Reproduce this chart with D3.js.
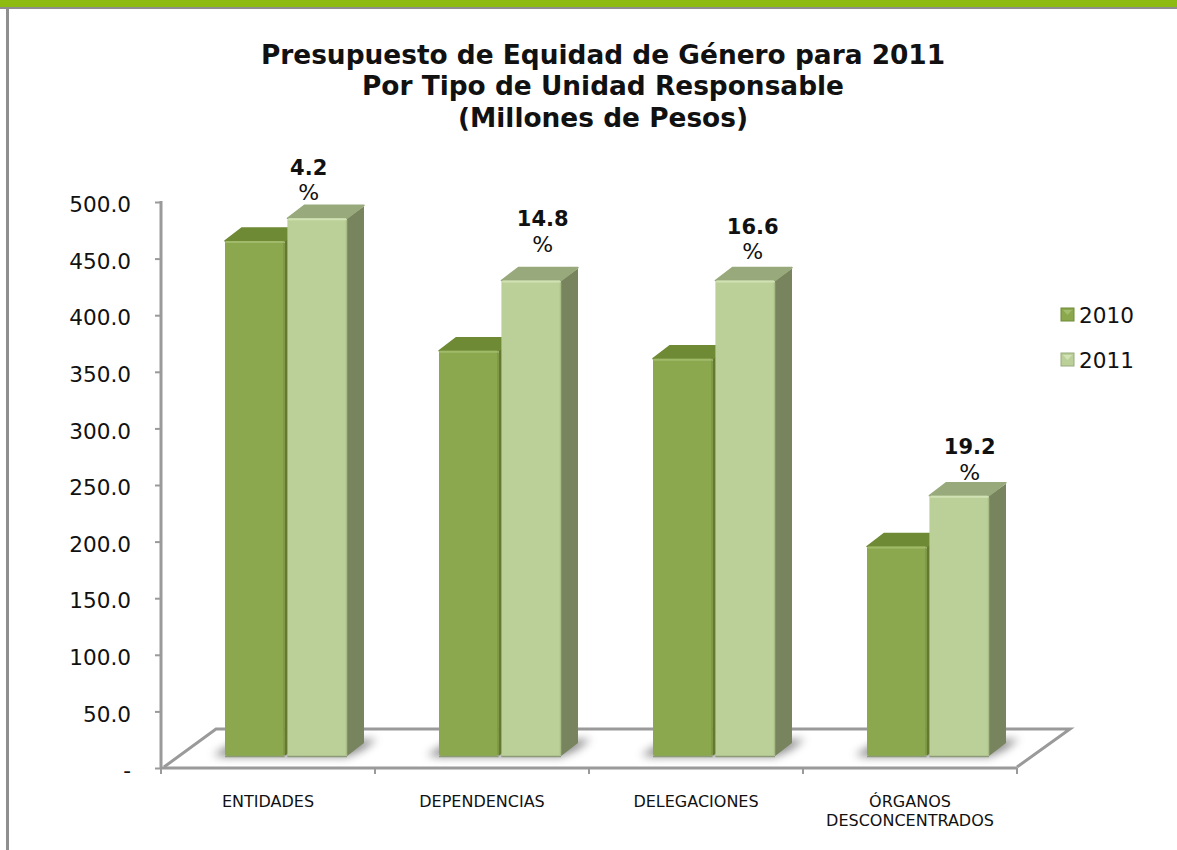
<!DOCTYPE html>
<html><head><meta charset="utf-8">
<script src="https://cdn.jsdelivr.net/npm/d3@7"></script>
<style>html,body{margin:0;padding:0;background:#fff}svg{display:block}text{font-family:"DejaVu Sans",sans-serif;fill:#111}</style>
</head><body><svg id="c" width="1177" height="850"></svg>
<script>
(function(){
const categories = ["ENTIDADES","DEPENDENCIAS","DELEGACIONES","ÓRGANOS\nDESCONCENTRADOS"];
const seriesNames = ["2010","2011"];
const values2010 = [455,358,351,185];
const values2011 = [475,420,420,230];
const pctLabels = ["4.2","14.8","16.6","19.2"];
const titleLines = ["Presupuesto de Equidad de Género para 2011","Por Tipo de Unidad Responsable","(Millones de Pesos)"];
const yTicks = [0,50,100,150,200,250,300,350,400,450,500];

const W=1177,H=850;
const svg=d3.select("#c");
const gray="#9a9a9a";
const m={left:161,right:1017,top:202,bottom:768};
const depthX=55, depthY=39, barLift=12, barDX=17, barDY=13;
const y=d3.scaleLinear().domain([0,500]).range([m.bottom,m.top]);
const x=d3.scaleBand().domain(categories).range([m.left,m.right]);
const inner=d3.scaleBand().domain(seriesNames).range([64,186]).paddingInner(0.045);
const palette={ "2010":{front:"#8ba84f",top:"#6f8a35",side:"#64792f",hi:"#a3bd6c",edge:"#7a9440"}, "2011":{front:"#bbd098",top:"#98a97b",side:"#77845e",hi:"#d3e3b8",edge:"#a9bd86"} };

// page frame
svg.append("rect").attr("x",0).attr("y",0).attr("width",W).attr("height",7).attr("fill","#8dbb12");
svg.append("rect").attr("x",0).attr("y",7).attr("width",W).attr("height",2).attr("fill","#8f8f8f");
svg.append("rect").attr("x",6).attr("y",7).attr("width",3).attr("height",H).attr("fill","#8f8f8f");

const defs=svg.append("defs");
defs.append("filter").attr("id","blur").attr("x","-30%").attr("y","-80%").attr("width","160%").attr("height","260%")
  .append("feGaussianBlur").attr("stdDeviation",4.5);

// title
svg.append("g").selectAll("text").data(titleLines).join("text")
  .attr("x",603).attr("y",(d,i)=>63.5+i*31.5).attr("text-anchor","middle")
  .attr("font-size",26.4).attr("font-weight","bold").text(d=>d);

// floor
const fl=[[m.left+3,m.bottom-1],[m.left+depthX,m.bottom-depthY],[m.right+depthX-2,m.bottom-depthY],[m.right,m.bottom-1]];
svg.append("path").attr("d","M"+fl.join("L")).attr("fill","#fff").attr("stroke",gray).attr("stroke-width",3).attr("stroke-linejoin","miter");

// y axis
const yAxis=d3.axisLeft(y).tickValues(yTicks).tickSize(6).tickPadding(24)
  .tickFormat(d=>d===0?"-":d3.format(".1f")(d));
const ga=svg.append("g").attr("transform",`translate(${m.left},0)`).call(yAxis);
ga.select(".domain").attr("stroke",gray).attr("stroke-width",3).attr("d",`M0,${m.top-1}V${m.bottom}`);
ga.selectAll(".tick line").attr("stroke",gray).attr("stroke-width",2);
ga.selectAll(".tick text").attr("font-size",21.6).attr("font-family","DejaVu Sans").attr("fill","#111").attr("dy","0.45em");

// x axis
const edges=[...categories.map(c=>x(c)),m.right];
const gx=svg.append("g");
gx.append("line").attr("x1",m.left).attr("x2",m.right).attr("y1",m.bottom).attr("y2",m.bottom).attr("stroke",gray).attr("stroke-width",3);
gx.selectAll("line.t").data(edges).join("line").attr("class","t")
  .attr("x1",d=>d).attr("x2",d=>d).attr("y1",m.bottom).attr("y2",m.bottom+6).attr("stroke",gray).attr("stroke-width",2);
categories.forEach(c=>{
  const lines=c.split("\n");
  const t=gx.append("text").attr("text-anchor","middle").attr("font-size",16);
  lines.forEach((l,i)=>t.append("tspan").attr("x",x(c)+x.bandwidth()/2).attr("y",807+i*19).text(l));
});

const rows=categories.flatMap((c,i)=>[
  {c,i,s:"2010",v:values2010[i]},
  {c,i,s:"2011",v:values2011[i]}]);
const bx=d=>x(d.c)+inner(d.s), bw=inner.bandwidth();
const base=y(0)-barLift, barTop=d=>y(d.v)-barLift;

// shadows
svg.append("g").selectAll("path").data(categories).join("path")
  .attr("d",c=>{const x0=x(c)+inner("2010"),x1=x(c)+inner("2011")+bw;
     return `M${x0-12},${base-1}L${x0+6},${base-12}L${x1+30},${base-17}L${x1+16},${base-6}L${x1},${base+1}L${x0},${base+1}Z`;})
  .attr("fill","#666").attr("opacity",0.7).attr("filter","url(#blur)");

// bars
const bars=svg.append("g").selectAll("g").data(rows).join("g");
bars.append("path").attr("d",d=>{const a=bx(d)+bw,t=barTop(d);return `M${a},${t}L${a+barDX},${t-barDY+1}V${base-barDY}L${a},${base}Z`;})
  .attr("fill",d=>palette[d.s].side);
bars.append("path").attr("d",d=>{const a=bx(d),t=barTop(d);return `M${a},${t}L${a+barDX},${t-barDY}H${a+bw+barDX}L${a+bw},${t}Z`;})
  .attr("fill",d=>palette[d.s].top).attr("stroke",d=>palette[d.s].top).attr("stroke-width",1.5).attr("stroke-linejoin","round");
bars.append("rect").attr("x",bx).attr("y",barTop).attr("width",bw).attr("height",d=>base-barTop(d)).attr("rx",2)
  .attr("fill",d=>palette[d.s].front);
bars.append("line").attr("x1",d=>bx(d)+1).attr("x2",d=>bx(d)+bw-1).attr("y1",d=>barTop(d)+1).attr("y2",d=>barTop(d)+1)
  .attr("stroke",d=>palette[d.s].hi).attr("stroke-width",2).attr("opacity",.9);
bars.append("line").attr("x1",d=>bx(d)+bw-.5).attr("x2",d=>bx(d)+bw-.5).attr("y1",d=>barTop(d)+2).attr("y2",base-1)
  .attr("stroke",d=>palette[d.s].edge).attr("stroke-width",1.5);
bars.append("line").attr("x1",bx).attr("x2",d=>bx(d)+bw).attr("y1",base+.5).attr("y2",base+.5).attr("stroke","#8d9a78").attr("stroke-width",1.5);

// percentage labels
const numRise=[43,55,47,42], pctRise=[18,29,22,16], labelShift=[-17,3,-1,2];
const gl=svg.append("g").selectAll("g").data(categories).join("g");
gl.each(function(c,i){
  const cx=x(c)+inner("2011")+bw/2+barDX/2+labelShift[i], ty=y(values2011[i])-barLift;
  const g=d3.select(this);
  g.append("text").attr("x",cx).attr("y",ty-numRise[i]).attr("text-anchor","middle").attr("font-size",21).attr("font-weight","bold").text(pctLabels[i]);
  g.append("text").attr("x",cx).attr("y",ty-pctRise[i]).attr("text-anchor","middle").attr("font-size",22).attr("font-weight",500).text("%");
});

// legend
const ly=d3.scalePoint().domain(seriesNames).range([315,360]);
const lg=svg.append("g").selectAll("g").data(seriesNames).join("g").attr("transform",d=>`translate(1061,${ly(d)-7})`);
lg.append("rect").attr("width",13).attr("height",13).attr("fill",d=>palette[d].front).attr("stroke",d=>palette[d].top).attr("stroke-width",1);
lg.append("path").attr("d","M2,2H11L6.5,7Z").attr("fill",d=>palette[d].hi);
lg.append("text").attr("x",18).attr("y",14.5).attr("font-size",21.6).text(d=>d);
})();
</script></body></html>
